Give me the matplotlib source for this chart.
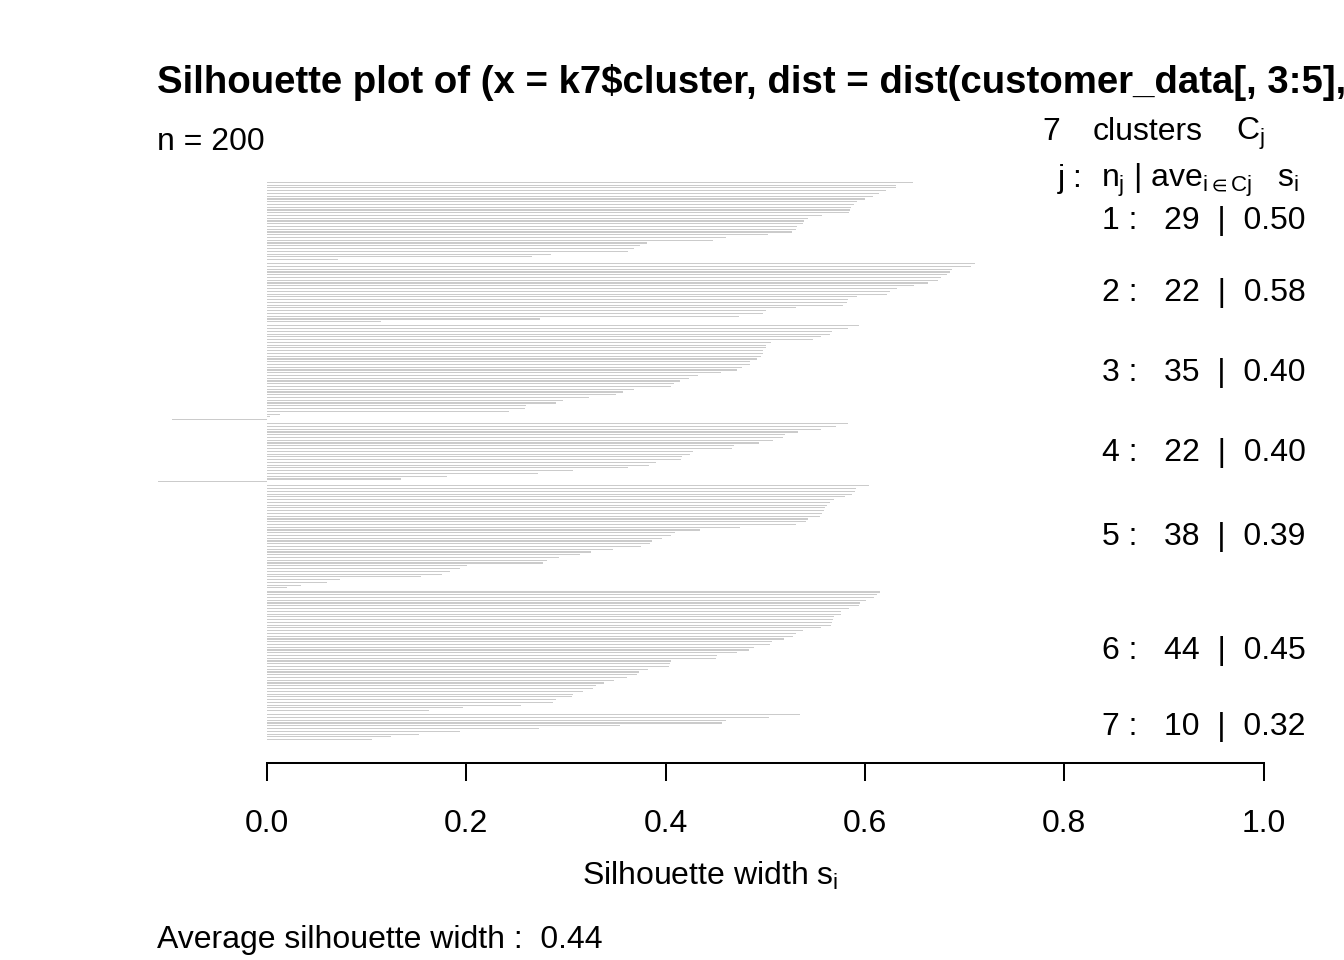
import numpy as np
import matplotlib.pyplot as plt

plt.rcParams['font.family'] = ['Liberation Sans', 'DejaVu Sans']
plt.rcParams['mathtext.fontset'] = 'custom'
plt.rcParams['mathtext.rm'] = 'Liberation Sans'
plt.rcParams['mathtext.it'] = 'Liberation Sans'
plt.rcParams['mathtext.fallback'] = 'stixsans'

# silhouette widths, sorted within each cluster
s1 = [0.648, 0.631, 0.631, 0.621, 0.614, 0.608, 0.600, 0.592, 0.589, 0.586,
      0.585, 0.584, 0.557, 0.543, 0.539, 0.538, 0.532, 0.531, 0.527, 0.503,
      0.461, 0.448, 0.381, 0.374, 0.368, 0.362, 0.285, 0.266, 0.071]
s2 = [0.710, 0.706, 0.687, 0.685, 0.682, 0.676, 0.673, 0.663, 0.649, 0.632,
      0.625, 0.622, 0.592, 0.583, 0.582, 0.578, 0.531, 0.501, 0.498, 0.474,
      0.274, 0.114]
s3 = [0.594, 0.583, 0.567, 0.565, 0.556, 0.548, 0.506, 0.501, 0.501, 0.498,
      0.498, 0.496, 0.492, 0.485, 0.485, 0.477, 0.472, 0.456, 0.432, 0.423,
      0.414, 0.408, 0.405, 0.368, 0.357, 0.350, 0.323, 0.297, 0.290, 0.260,
      0.259, 0.243, 0.013, 0.003, -0.095]
s4 = [0.583, 0.571, 0.556, 0.533, 0.520, 0.518, 0.508, 0.494, 0.469, 0.467,
      0.427, 0.424, 0.416, 0.415, 0.390, 0.383, 0.362, 0.307, 0.272, 0.181,
      0.134, -0.109]
s5 = [0.604, 0.591, 0.590, 0.587, 0.580, 0.569, 0.565, 0.562, 0.560, 0.559,
      0.557, 0.555, 0.543, 0.541, 0.531, 0.475, 0.434, 0.409, 0.405, 0.396,
      0.386, 0.384, 0.375, 0.347, 0.325, 0.314, 0.293, 0.281, 0.277, 0.201,
      0.194, 0.184, 0.176, 0.155, 0.073, 0.060, 0.034, 0.020]
s6 = [0.615, 0.612, 0.609, 0.601, 0.595, 0.594, 0.584, 0.576, 0.576, 0.569,
      0.568, 0.567, 0.566, 0.556, 0.538, 0.531, 0.528, 0.519, 0.507, 0.505,
      0.489, 0.484, 0.472, 0.452, 0.451, 0.405, 0.404, 0.403, 0.382, 0.373,
      0.371, 0.361, 0.348, 0.338, 0.330, 0.327, 0.317, 0.307, 0.306, 0.290,
      0.287, 0.255, 0.197, 0.163]
s7 = [0.535, 0.504, 0.461, 0.457, 0.354, 0.273, 0.194, 0.153, 0.124, 0.105]

clusters = [s1, s2, s3, s4, s5, s6, s7]
xticks = [0.0, 0.2, 0.4, 0.6, 0.8, 1.0]

W, H = 1344, 960
fig = plt.figure(figsize=(W / 100, H / 100), dpi=100)
ax = fig.add_axes([114.5 / W, 1 - 763.4 / H, (1307.5 - 114.5) / W, (763.4 - 158.6) / H])

# bar positions: 1 unit per bar, half a bar gap between clusters
pos, vals, centers = [], [], []
y = 0.0
for s in clusters:
    ys = y + np.arange(len(s))
    pos.extend(ys)
    vals.extend(s)
    centers.append(ys.mean())
    y = ys[-1] + 1.5

ax.barh(pos, vals, height=0.42, color='#cbcbcb', linewidth=0)

span = pos[-1] - pos[0] + 1
ax.set_ylim(pos[-1] + 0.5 + 0.04 * span, pos[0] - 0.5 - 0.04 * span)
ax.set_xlim(-0.153, 1.044)

for side in ['top', 'left', 'right']:
    ax.spines[side].set_visible(False)
ax.spines['bottom'].set_bounds(0, 1)
ax.spines['bottom'].set_linewidth(1.45)
ax.set_yticks([])
ax.set_xticks(xticks)
ax.set_xticklabels([f"{t:.1f}" for t in xticks], fontsize=23)
ax.tick_params(axis='x', length=13, width=1.45, pad=20)

# per-cluster stats on the right
for j, (s, c) in enumerate(zip(clusters, centers)):
    ax.text(1.042, c, f"{j + 1} :   {len(s)}  |  {np.mean(s):.2f}",
            ha='right', va='center', fontsize=23, clip_on=False)

avg = np.mean(np.concatenate(clusters))

def ftext(x, y, s, **kw):
    fig.text(x / W, 1 - y / H, s, va='baseline', **kw)

# title runs off the right edge in the original; keep the visible part
ftext(157, 93, 'Silhouette plot of (x = k7$cluster, dist = dist(customer_data[, 3:5],',
      fontsize=27.6, fontweight='bold', parse_math=False)
ftext(157, 150, "n = 200", fontsize=23)
ftext(1042, 140, "7", fontsize=23)
ftext(1093, 140, "clusters", fontsize=23)
ftext(1236, 140, r"$C_j$", fontsize=23)
ftext(1058, 187, "j :", fontsize=23)
ftext(1101, 187, r"$n_j$ | $ave_{i\in Cj}$", fontsize=23)
ftext(1277, 187, r"$s_i$", fontsize=23)
ftext(710, 885, r"Silhouette width $s_i$", fontsize=23, ha='center')
ftext(157, 948, f"Average silhouette width :  {avg:.2f}", fontsize=23)

fig.savefig("out.png", dpi=100)
